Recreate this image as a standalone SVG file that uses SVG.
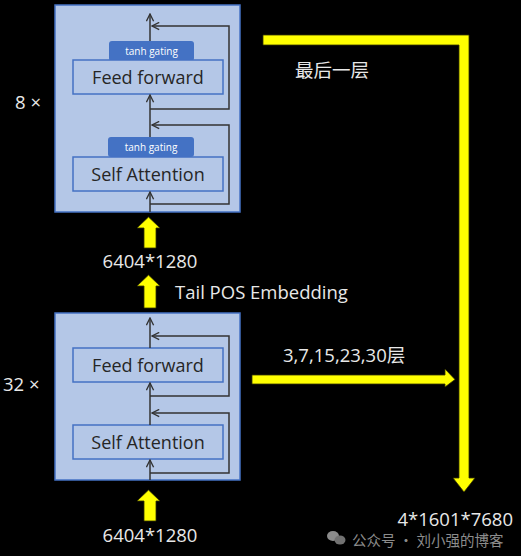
<svg xmlns="http://www.w3.org/2000/svg" width="521" height="556" viewBox="0 0 521 556">
<defs>
<style>
.outer{fill:#B4C7E7;stroke:#4472C4;stroke-width:1.5}
.inner{fill:#B4C7E7;stroke:#4472C4;stroke-width:1.5}
.pill{fill:#4472C4}
.ln{fill:none;stroke:#333;stroke-width:1.5}
.lbl{font-family:"Open Sans","Liberation Sans",sans-serif;font-size:18px;fill:#262626;text-anchor:middle}
.pt{font-family:"Open Sans","Liberation Sans",sans-serif;font-size:10px;fill:#fff;text-anchor:middle}
.wt{font-family:"Open Sans","Liberation Sans","Noto Sans CJK SC",sans-serif;font-size:18.5px;fill:#e8e8e8}
.y{fill:#FFFF00;stroke:#333300;stroke-width:0.8}
</style>
<marker id="ah" viewBox="0 0 10 10" refX="9" refY="5" markerWidth="9" markerHeight="9" markerUnits="userSpaceOnUse" orient="auto">
<path d="M1,1 L9,5 L1,9" fill="none" stroke="#333" stroke-width="1.5"/>
</marker>
</defs>
<rect width="521" height="556" fill="#000"/>

<g id="top-block">
<rect class="outer" x="55" y="5" width="185" height="207"/>
<g id="top-ff">
<rect class="pill" x="109" y="41" width="85" height="20" rx="3"/>
<text class="pt" x="151.5" y="55">tanh gating</text>
<rect class="inner" x="73" y="60" width="150" height="34"/>
<text class="lbl" x="148" y="83.5">Feed forward</text>
</g>
<g id="top-sa">
<rect class="pill" x="108" y="137" width="86" height="20" rx="3"/>
<text class="pt" x="151" y="151">tanh gating</text>
<rect class="inner" x="73" y="157" width="150" height="34"/>
<text class="lbl" x="148" y="180.5">Self Attention</text>
</g>
</g>

<g id="bottom-block">
<rect class="outer" x="55" y="313" width="185" height="167"/>
<g id="bot-ff">
<rect class="inner" x="73" y="348" width="150" height="34"/>
<text class="lbl" x="148" y="371.5">Feed forward</text>
</g>
<g id="bot-sa">
<rect class="inner" x="73" y="425" width="150" height="34"/>
<text class="lbl" x="148" y="448.5">Self Attention</text>
</g>
</g>

<g id="connectors">
<line class="ln" x1="150" y1="212" x2="150" y2="192" marker-end="url(#ah)"/>
<line class="ln" x1="150" y1="137" x2="150" y2="95" marker-end="url(#ah)"/>
<line class="ln" x1="150" y1="41" x2="150" y2="14" marker-end="url(#ah)"/>
<polyline class="ln" points="150,204 229,204 229,125 152,125" marker-end="url(#ah)"/>
<polyline class="ln" points="150,109 229,109 229,26 152,26" marker-end="url(#ah)"/>
<line class="ln" x1="150" y1="480" x2="150" y2="460" marker-end="url(#ah)"/>
<line class="ln" x1="150" y1="425" x2="150" y2="383" marker-end="url(#ah)"/>
<line class="ln" x1="150" y1="348" x2="150" y2="318" marker-end="url(#ah)"/>
<polyline class="ln" points="150,473 229,473 229,413 152,413" marker-end="url(#ah)"/>
<polyline class="ln" points="150,396 229,396 229,336 152,336" marker-end="url(#ah)"/>
<path class="y" d="M144,248 L144,228 L137,228 L148.5,217 L160,228 L156,228 L156,248 Z"/>
<path class="y" d="M144,308 L144,286 L137,286 L148.5,275 L160,286 L156,286 L156,308 Z"/>
<path class="y" d="M144,521 L144,501 L137,501 L148.5,490 L160,501 L156,501 L156,521 Z"/>
<path class="y" d="M263,35 L469,35 L469,478 L475,478 L464,492 L453,478 L459,478 L459,45 L263,45 Z"/>
<path class="y" d="M252,375 L445,375 L445,369 L455,379.5 L445,387 L445,384 L252,384 Z"/>
</g>

<g id="labels">
<text class="wt" x="15" y="109">8 ×</text>
<text class="wt" x="3" y="391">32 ×</text>
<text class="wt" x="150" y="268" text-anchor="middle">6404*1280</text>
<text class="wt" x="175" y="299">Tail POS Embedding</text>
<text class="wt" x="150" y="542" text-anchor="middle">6404*1280</text>
<text class="wt" x="295" y="77" font-size="21">最后一层</text>
<text class="wt" x="283" y="362" font-size="19">3,7,15,23,30层</text>
<text class="wt" x="513" y="526" text-anchor="end">4*1601*7680</text>
</g>

<g id="watermark" opacity="0.75">
<ellipse cx="333" cy="536" rx="6" ry="5" fill="#bbb"/>
<ellipse cx="340" cy="540" rx="5.5" ry="4.5" fill="#999"/>
<text x="352" y="546" font-family="'Noto Sans CJK SC',sans-serif" font-size="14.5" fill="#bbb">公众号 · 刘小强的博客</text>
</g>
</svg>
